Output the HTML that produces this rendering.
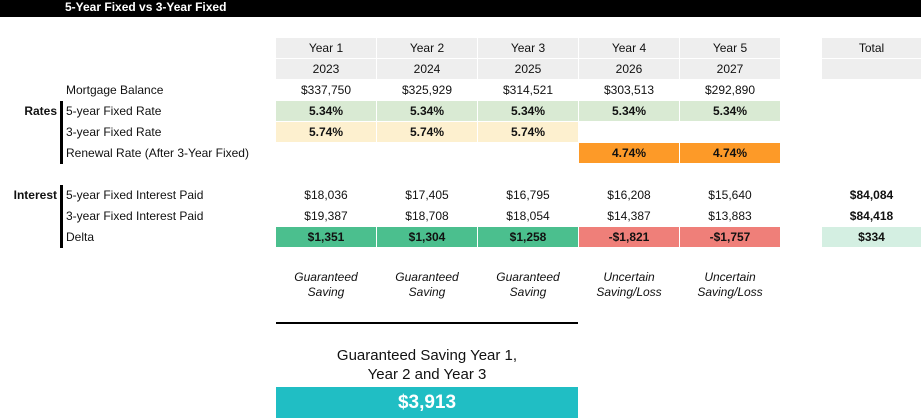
<!DOCTYPE html>
<html><head><meta charset="utf-8"><style>
body{margin:0;width:921px;height:418px;overflow:hidden;background:#fff;font-family:"Liberation Sans",sans-serif;font-size:12px;color:#111;position:relative}
.a{position:absolute}
.c{position:absolute;height:20px;line-height:20px;text-align:center;width:100px}
.l{position:absolute;left:66px;height:20px;line-height:20px;font-size:12px}
.b{font-weight:bold}
</style></head><body>
<div class="a" style="left:0;top:0;width:921px;height:17px;background:#000;color:#fff;font-weight:bold;font-size:12px;line-height:14px;padding-left:65px;box-sizing:border-box">5-Year Fixed vs 3-Year Fixed</div>
<div class="a" style="left:60px;top:101px;width:3px;height:63px;background:#000"></div>
<div class="a" style="left:60px;top:185px;width:3px;height:63px;background:#000"></div>
<div class="a b" style="left:0;width:57px;text-align:right;top:101px;line-height:20px">Rates</div>
<div class="a b" style="left:0;width:57px;text-align:right;top:185px;line-height:20px">Interest</div>
<div id="grid"></div>
<div class="a" style="left:276px;top:322px;width:302px;height:2px;background:#000"></div>
<div class="a" style="left:276px;width:302px;top:346px;text-align:center;font-size:15px;line-height:19px">Guaranteed Saving Year 1,<br>Year 2 and Year 3</div>
<div class="a" style="left:276px;width:302px;top:387px;height:31px;background:#20bec4;color:#fff;font-weight:bold;font-size:19px;line-height:31px;text-align:center">$3,913</div>
<script>
const years=["Year 1","Year 2","Year 3","Year 4","Year 5"];
const yearNums=["2023","2024","2025","2026","2027"];
const balance=["$337,750","$325,929","$314,521","$303,513","$292,890"];
const rate5=["5.34%","5.34%","5.34%","5.34%","5.34%"];
const rate3=["5.74%","5.74%","5.74%","",""];
const renewal=["","","","4.74%","4.74%"];
const int5=["$18,036","$17,405","$16,795","$16,208","$15,640"];
const int3=["$19,387","$18,708","$18,054","$14,387","$13,883"];
const delta=["$1,351","$1,304","$1,258","-$1,821","-$1,757"];
const totals=["$84,084","$84,418","$334"];
const notes=[["Guaranteed","Saving"],["Guaranteed","Saving"],["Guaranteed","Saving"],["Uncertain","Saving/Loss"],["Uncertain","Saving/Loss"]];
const labels=[["Mortgage Balance",80],["5-year Fixed Rate",101],["3-year Fixed Rate",122],["Renewal Rate (After 3-Year Fixed)",143],["5-year Fixed Interest Paid",185],["3-year Fixed Interest Paid",206],["Delta",227]];
const g=document.getElementById('grid');
function cell(x,y,txt,bg,bold,name,w){
  const d=document.createElement('div');d.className='c'+(bold?' b':'');
  d.style.left=x+'px';d.style.top=y+'px';if(w)d.style.width=w+'px';
  if(bg)d.style.background=bg;d.textContent=txt;
  
  
  g.appendChild(d);
}
labels.forEach(([t,y])=>{const d=document.createElement('div');d.className='l';d.style.top=y+'px';d.textContent=t;


g.appendChild(d);});
for(let i=0;i<5;i++){
  const x=276+i*101;
  cell(x,38,years[i],'#eeeeee',false,'year-header');
  cell(x,59,yearNums[i],'#eeeeee',false,'year-number');
  cell(x,80,balance[i],null,false,'balance-cell');
  cell(x,101,rate5[i],'#d9ead3',true,'rate5-cell');
  if(rate3[i])cell(x,122,rate3[i],'#fdf0cf',true,'rate3-cell');
  if(renewal[i])cell(x,143,renewal[i],'#fd9a28',true,'renewal-cell');
  cell(x,185,int5[i],null,false,'int5-cell');
  cell(x,206,int3[i],null,false,'int3-cell');
  cell(x,227,delta[i],delta[i][0]==='-'?'#ef7f79':'#4bbf8e',true,'delta-cell');
  const n=document.createElement('div');n.className='a';
  n.style.cssText='left:'+x+'px;top:270px;width:100px;text-align:center;font-style:italic;font-size:12px;line-height:15px';
  n.innerHTML=notes[i][0]+'<br>'+notes[i][1];
  
  
  g.appendChild(n);
}
cell(822,38,'Total','#eeeeee',false,'total-header',99);
cell(822,59,'','#eeeeee',false,'total-blank',99);
cell(822,185,totals[0],null,true,'total-int5',99);
cell(822,206,totals[1],null,true,'total-int3',99);
cell(822,227,totals[2],'#d4efe2',true,'total-delta',99);
</script>
</body></html>
